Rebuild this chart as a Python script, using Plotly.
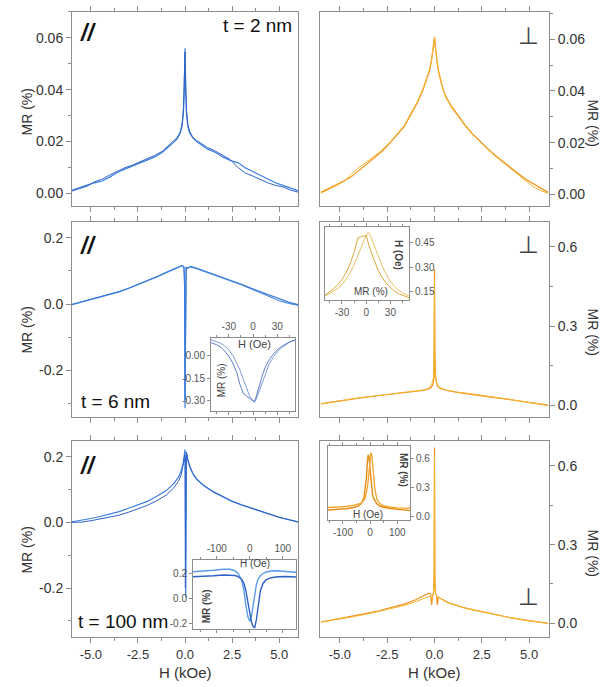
import plotly.graph_objects as go

W, H = 609, 687
FONT = "Arial, Liberation Sans, sans-serif"
BLUE = "#3a7ddc"
BLUE2 = "#2f62c8"
ORANGE = "#f0921a"
ORANGE2 = "#f5b534"

# ---------------- data ----------------
# Panel TL: parallel, t = 2 nm
H_tl = [-6.0, -5.6, -5.2, -4.8, -4.4, -4.0, -3.6, -3.2, -2.8, -2.4, -2.0, -1.6, -1.2, -0.9, -0.6, -0.4,
        -0.25, -0.15, -0.08, -0.04, 0.0, 0.04, 0.08, 0.15, 0.25, 0.4, 0.6, 0.9, 1.2, 1.6, 2.0, 2.4, 2.8,
        3.2, 3.6, 4.0, 4.4, 4.8, 5.2, 5.6, 6.0]
MR_tl_a = [0.0012, 0.0020, 0.0031, 0.0040, 0.0047, 0.0062, 0.0080, 0.0093, 0.0105, 0.0114, 0.0128, 0.0140,
           0.0158, 0.0176, 0.0196, 0.0212, 0.0232, 0.0262, 0.0315, 0.0395, 0.0560, 0.0390, 0.0305, 0.0258,
           0.0232, 0.0215, 0.0200, 0.0185, 0.0170, 0.0158, 0.0140, 0.0126, 0.0118, 0.0098, 0.0083, 0.0068,
           0.0054, 0.0040, 0.0030, 0.0020, 0.0010]
MR_tl_b = [0.0008, 0.0016, 0.0027, 0.0044, 0.0054, 0.0070, 0.0085, 0.0098, 0.0108, 0.0120, 0.0132, 0.0146,
           0.0162, 0.0181, 0.0201, 0.0216, 0.0237, 0.0270, 0.0330, 0.0420, 0.0545, 0.0410, 0.0320, 0.0265,
           0.0238, 0.0218, 0.0204, 0.0190, 0.0176, 0.0163, 0.0146, 0.0130, 0.0100, 0.0078, 0.0066, 0.0052,
           0.0040, 0.0030, 0.0024, 0.0012, 0.0004]

# Panel TR: perpendicular, t = 2 nm
H_tr = H_tl
MR_tr_a = [0.0008, 0.0022, 0.0036, 0.0052, 0.0068, 0.0092, 0.0115, 0.0140, 0.0165, 0.0195, 0.0228, 0.0262,
           0.0315, 0.0355, 0.0405, 0.0445, 0.0480, 0.0520, 0.0555, 0.0580, 0.0605, 0.0575, 0.0545, 0.0505,
           0.0465, 0.0420, 0.0378, 0.0340, 0.0310, 0.0270, 0.0235, 0.0205, 0.0178, 0.0152, 0.0128, 0.0104,
           0.0082, 0.0060, 0.0042, 0.0025, 0.0008]
MR_tr_b = [0.0004, 0.0018, 0.0033, 0.0049, 0.0078, 0.0104, 0.0125, 0.0146, 0.0170, 0.0198, 0.0232, 0.0266,
           0.0320, 0.0360, 0.0410, 0.0450, 0.0486, 0.0526, 0.0560, 0.0586, 0.0610, 0.0570, 0.0540, 0.0500,
           0.0460, 0.0416, 0.0374, 0.0336, 0.0306, 0.0266, 0.0232, 0.0202, 0.0175, 0.0148, 0.0124, 0.0100,
           0.0076, 0.0052, 0.0030, 0.0015, 0.0004]

# Panel ML: parallel, t = 6 nm
H_ml = [-6.0, -5.5, -5.0, -4.5, -4.0, -3.5, -3.0, -2.5, -2.0, -1.5, -1.0, -0.6, -0.3, -0.15, -0.06, -0.02,
        0.0, 0.02, 0.06, 0.15, 0.3, 0.6, 1.0, 1.5, 2.0, 2.5, 3.0, 3.5, 4.0, 4.5, 5.0, 5.5, 6.0]
MR_ml_a = [-0.002, 0.006, 0.013, 0.020, 0.028, 0.037, 0.047, 0.058, 0.069, 0.082, 0.095, 0.105, 0.112,
           0.116, 0.112, 0.050, -0.315, 0.060, 0.110, 0.108, 0.114, 0.109, 0.101, 0.092, 0.081, 0.070,
           0.060, 0.048, 0.037, 0.026, 0.016, 0.006, -0.002]
MR_ml_b = [-0.001, 0.007, 0.014, 0.021, 0.029, 0.038, 0.048, 0.059, 0.070, 0.083, 0.096, 0.106, 0.113,
           0.117, 0.113, 0.080, -0.290, 0.070, 0.112, 0.110, 0.112, 0.107, 0.099, 0.090, 0.079, 0.068,
           0.058, 0.046, 0.034, 0.022, 0.010, 0.002, -0.004]

# Panel MR: perpendicular, t = 6 nm
H_mr = [-6.0, -5.0, -4.0, -3.0, -2.0, -1.2, -0.6, -0.3, -0.15, -0.08, -0.04, -0.02, 0.0, 0.02, 0.04, 0.08,
        0.15, 0.3, 0.6, 1.2, 2.0, 3.0, 4.0, 5.0, 6.0]
MR_mr_a = [0.005, 0.017, 0.027, 0.036, 0.044, 0.050, 0.056, 0.062, 0.070, 0.082, 0.100, 0.160, 0.515,
           0.170, 0.105, 0.088, 0.074, 0.064, 0.057, 0.049, 0.042, 0.031, 0.021, 0.011, 0.000]
MR_mr_b = [0.006, 0.018, 0.028, 0.037, 0.045, 0.051, 0.058, 0.064, 0.080, 0.095, 0.120, 0.250, 0.480,
           0.200, 0.115, 0.092, 0.078, 0.066, 0.058, 0.050, 0.043, 0.032, 0.022, 0.012, 0.001]

# Panel BL: parallel, t = 100 nm
H_bl = [-6.0, -5.5, -5.0, -4.5, -4.0, -3.5, -3.0, -2.5, -2.0, -1.5, -1.0, -0.6, -0.35, -0.2, -0.1, -0.05,
        -0.02, 0.0, 0.02, 0.04, 0.07, 0.1, 0.15, 0.25, 0.4, 0.6, 1.0, 1.5, 2.0, 2.5, 3.0, 3.5, 4.0, 4.5,
        5.0, 5.5, 6.0]
MR_bl_a = [0.002, 0.006, 0.012, 0.018, 0.025, 0.033, 0.043, 0.054, 0.064, 0.080, 0.097, 0.118, 0.138,
           0.158, 0.180, 0.200, 0.215, 0.222, 0.180, -0.229, 0.190, 0.205, 0.190, 0.170, 0.150, 0.132,
           0.112, 0.093, 0.078, 0.064, 0.053, 0.043, 0.033, 0.024, 0.015, 0.008, 0.001]
MR_bl_b = [0.000, 0.001, 0.005, 0.010, 0.016, 0.022, 0.031, 0.041, 0.052, 0.066, 0.083, 0.105, 0.125,
           0.145, 0.170, 0.190, 0.205, 0.180, -0.200, 0.100, 0.215, 0.210, 0.192, 0.172, 0.152, 0.134,
           0.113, 0.094, 0.079, 0.065, 0.054, 0.044, 0.034, 0.025, 0.016, 0.009, 0.002]

# Panel BR: perpendicular, t = 100 nm
H_br = [-6.0, -5.0, -4.0, -3.0, -2.0, -1.5, -1.0, -0.7, -0.45, -0.3, -0.2, -0.15, -0.1, -0.05, -0.02, 0.0,
        0.02, 0.05, 0.1, 0.15, 0.2, 0.3, 0.45, 0.7, 1.0, 1.5, 2.0, 3.0, 4.0, 5.0, 6.0]
MR_br_a = [0.005, 0.018, 0.032, 0.047, 0.064, 0.075, 0.090, 0.100, 0.110, 0.115, 0.112, 0.070, 0.105,
           0.115, 0.160, 0.670, 0.150, 0.115, 0.110, 0.070, 0.100, 0.097, 0.090, 0.080, 0.072, 0.061,
           0.052, 0.036, 0.022, 0.010, 0.000]
MR_br_b = [0.004, 0.016, 0.029, 0.044, 0.060, 0.070, 0.082, 0.090, 0.097, 0.102, 0.105, 0.095, 0.108,
           0.118, 0.200, 0.640, 0.180, 0.118, 0.108, 0.095, 0.100, 0.095, 0.088, 0.079, 0.071, 0.060,
           0.051, 0.035, 0.021, 0.009, 0.000]

# Insets (H in Oe)
Hi_ml = [-52, -45, -40, -35, -30, -25, -20, -16, -12, -8, -4, 0, 2, 4, 8, 12, 16, 20, 25, 30, 35, 40, 45, 52]
MRi_ml_a = [0.105, 0.094, 0.082, 0.064, 0.038, 0.002, -0.048, -0.098, -0.158, -0.218, -0.272, -0.300,
            -0.305, -0.290, -0.232, -0.162, -0.102, -0.057, -0.012, 0.024, 0.050, 0.072, 0.088, 0.103]
MRi_ml_b = [0.086, 0.072, 0.056, 0.030, -0.004, -0.050, -0.115, -0.195, -0.252, -0.270, -0.285, -0.300,
            -0.310, -0.272, -0.194, -0.124, -0.068, -0.028, 0.008, 0.038, 0.060, 0.078, 0.090, 0.104]

Hi_mr = [-51, -45, -40, -35, -30, -25, -20, -15, -10, -6, -3, 0, 3, 6, 10, 15, 20, 25, 30, 35, 40, 45, 53]
MRi_mr_a = [0.125, 0.140, 0.155, 0.172, 0.195, 0.225, 0.265, 0.315, 0.375, 0.425, 0.460, 0.495, 0.512,
            0.482, 0.430, 0.365, 0.305, 0.255, 0.215, 0.185, 0.160, 0.145, 0.125]
MRi_mr_b = [0.130, 0.150, 0.170, 0.195, 0.225, 0.265, 0.320, 0.390, 0.480, 0.486, 0.490, 0.492, 0.440,
            0.395, 0.340, 0.280, 0.235, 0.200, 0.175, 0.155, 0.140, 0.130, 0.115]

Hi_bl = [-172, -140, -110, -80, -60, -45, -35, -25, -18, -12, -6, 0, 5, 10, 15, 20, 25, 32, 40, 50, 65, 85, 110, 140]
MRi_bl_a = [0.212, 0.216, 0.224, 0.232, 0.232, 0.220, 0.196, 0.146, 0.066, -0.056, -0.148, -0.185,
            -0.150, -0.062, 0.038, 0.108, 0.150, 0.180, 0.198, 0.210, 0.218, 0.220, 0.214, 0.208]
MRi_bl_b = [0.172, 0.174, 0.180, 0.186, 0.186, 0.182, 0.172, 0.152, 0.122, 0.062, -0.028, -0.118,
            -0.190, -0.230, -0.236, -0.172, -0.062, 0.058, 0.118, 0.148, 0.164, 0.172, 0.174, 0.170]

Hi_br = [-155, -120, -90, -60, -45, -35, -28, -22, -17, -13, -10, -7, -4, 0, 3, 6, 9, 13, 18, 25, 35, 50, 70, 100, 147]
MRi_br_a = [0.072, 0.078, 0.085, 0.098, 0.112, 0.130, 0.160, 0.210, 0.300, 0.420, 0.560, 0.640, 0.610,
            0.480, 0.360, 0.280, 0.230, 0.190, 0.160, 0.135, 0.115, 0.100, 0.090, 0.080, 0.065]
MRi_br_b = [0.098, 0.102, 0.108, 0.120, 0.130, 0.140, 0.155, 0.175, 0.205, 0.250, 0.300, 0.370, 0.470,
            0.600, 0.660, 0.640, 0.560, 0.420, 0.280, 0.180, 0.140, 0.115, 0.102, 0.094, 0.090]

# tick labels
x_ticks = [-5, -2.5, 0, 2.5, 5]
x_ticktext = ["-5.0", "-2.5", "0.0", "2.5", "5.0"]
y_small_ticks = [0, 0.02, 0.04, 0.06]
y_small_text = ["0.00", "0.02", "0.04", "0.06"]
y_par_ticks = [-0.2, 0, 0.2]
y_par_text = ["-0.2", "0.0", "0.2"]
y_perp_ticks = [0, 0.3, 0.6]
y_perp_text = ["0.0", "0.3", "0.6"]
ins_ml_x = [-30, 0, 30]
ins_ml_y = [-0.30, -0.15, 0.0]
ins_ml_ytext = ["-0.30", "-0.15", "0.00"]
ins_mr_y = [0.15, 0.30, 0.45]
ins_mr_ytext = ["0.15", "0.30", "0.45"]
ins_b_x = [-100, 0, 100]
ins_b_xtext = ["-100", "0", "100"]
ins_bl_y = [-0.2, 0.0, 0.2]
ins_bl_ytext = ["-0.2", "0.0", "0.2"]
ins_br_y = [0.0, 0.3, 0.6]
ins_br_ytext = ["0.0", "0.3", "0.6"]

# ---------------- figure ----------------
def px(x):
    return x / W

def py(y):
    return 1 - y / H

fig = go.Figure()

def add(H_, M, idx, color, width=1.2):
    s = "" if idx == 1 else str(idx)
    fig.add_trace(go.Scatter(x=H_, y=M, mode="lines", line=dict(color=color, width=width),
                             xaxis="x" + s, yaxis="y" + s, showlegend=False, hoverinfo="skip"))

add(H_tl, MR_tl_a, 1, BLUE); add(H_tl, MR_tl_b, 1, BLUE2, 1.0)
add(H_tr, MR_tr_a, 2, ORANGE); add(H_tr, MR_tr_b, 2, ORANGE2, 1.0)
add(H_ml, MR_ml_a, 3, BLUE); add(H_ml, MR_ml_b, 3, BLUE, 1.0)
add(H_mr, MR_mr_a, 4, ORANGE); add(H_mr, MR_mr_b, 4, ORANGE2, 1.0)
add(H_bl, MR_bl_a, 5, BLUE); add(H_bl, MR_bl_b, 5, BLUE2, 1.0)
add(H_br, MR_br_a, 6, ORANGE); add(H_br, MR_br_b, 6, ORANGE2, 1.0)
add(Hi_ml, MRi_ml_a, 7, "#7f9ad8", 1.0); add(Hi_ml, MRi_ml_b, 7, "#5f7fcc", 1.0)
add(Hi_mr, MRi_mr_a, 8, "#e6c060", 1.0); add(Hi_mr, MRi_mr_b, 8, "#d9a83a", 1.0)
add(Hi_bl, MRi_bl_a, 9, "#5a9ae8", 1.4); add(Hi_bl, MRi_bl_b, 9, "#2e62c6", 1.4)
add(Hi_br, MRi_br_a, 10, "#e88a12", 1.4); add(Hi_br, MRi_br_b, 10, "#f2a636", 1.4)

FR = "#8c8c8c"
TICKF = dict(family=FONT, size=13, color="#333333")

def xax(dom, rng, labels, **kw):
    d = dict(domain=dom, range=rng, showline=True, linecolor=FR, linewidth=1, mirror="allticks",
             ticks="outside", ticklen=5, tickcolor=FR, tickmode="array", tickvals=x_ticks,
             ticktext=x_ticktext, showticklabels=labels, tickfont=TICKF, showgrid=False,
             zeroline=False, minor=dict(ticks="outside", ticklen=3, dtick=1.25, tick0=0, tickcolor=FR))
    d.update(kw)
    return d

def yax(dom, rng, vals, text, minor, side, **kw):
    d = dict(domain=dom, range=rng, showline=True, linecolor=FR, linewidth=1, mirror=True,
             ticks="outside", ticklen=5, tickcolor=FR, tickmode="array", tickvals=vals, ticktext=text,
             tickfont=dict(family=FONT, size=14, color="#333333"), showgrid=False, zeroline=False,
             side=side, minor=dict(ticks="outside", ticklen=3, dtick=minor, tick0=0, tickcolor=FR))
    d.update(kw)
    return d

XL = [px(72), px(298)]
XR = [px(320), px(549)]
YT = [py(207), py(12)]
YM = [py(419), py(223)]
YB = [py(640), py(443)]

layout = dict(
    width=W, height=H, margin=dict(l=0, r=0, t=0, b=0), plot_bgcolor="white", paper_bgcolor="white",
    font=dict(family=FONT),
    xaxis=xax(XL, [-6.0, 6.0], False, anchor="y"),
    yaxis=yax(YT, [-0.005, 0.070], y_small_ticks, y_small_text, 0.01, "left", anchor="x"),
    xaxis2=xax(XR, [-6.05, 6.05], False, anchor="y2"),
    yaxis2=yax(YT, [-0.0045, 0.0705], y_small_ticks, y_small_text, 0.01, "right", anchor="x2"),
    xaxis3=xax(XL, [-6.0, 6.0], False, anchor="y3"),
    yaxis3=yax(YM, [-0.342, 0.248], y_par_ticks, y_par_text, 0.1, "left", anchor="x3"),
    xaxis4=xax(XR, [-6.05, 6.05], False, anchor="y4"),
    yaxis4=yax(YM, [-0.045, 0.694], y_perp_ticks, y_perp_text, 0.15, "right", anchor="x4"),
    xaxis5=xax(XL, [-6.0, 6.0], True, anchor="y5"),
    yaxis5=yax(YB, [-0.35, 0.248], y_par_ticks, y_par_text, 0.1, "left", anchor="x5"),
    xaxis6=xax(XR, [-6.05, 6.05], True, anchor="y6"),
    yaxis6=yax(YB, [-0.053, 0.695], y_perp_ticks, y_perp_text, 0.15, "right", anchor="x6"),
)

INS_F = dict(family=FONT, size=10, color="#555555")

def ins_x(dom, rng, vals, text, side, anchor, minor):
    return dict(domain=dom, range=rng, showline=True, linecolor=FR, linewidth=1, mirror="allticks",
                ticks="outside", ticklen=3, tickcolor=FR, tickmode="array", tickvals=vals, ticktext=text,
                tickfont=INS_F, side=side, anchor=anchor, showgrid=False, zeroline=False,
                minor=dict(ticks="outside", ticklen=2, dtick=minor, tick0=0, tickcolor=FR))

def ins_y(dom, rng, vals, text, side, anchor):
    return dict(domain=dom, range=rng, showline=True, linecolor=FR, linewidth=1, mirror=True,
                ticks="outside", ticklen=3, tickcolor=FR, tickmode="array", tickvals=vals, ticktext=text,
                tickfont=INS_F, side=side, anchor=anchor, showgrid=False, zeroline=False)

layout["xaxis7"] = ins_x([px(211), px(295)], [-52, 52], ins_ml_x, [str(v) for v in ins_ml_x], "top", "y7", 15)
layout["yaxis7"] = ins_y([py(413), py(339)], [-0.37, 0.12], ins_ml_y, ins_ml_ytext, "left", "x7")
layout["xaxis8"] = ins_x([px(325), px(409)], [-51, 53], ins_ml_x, [str(v) for v in ins_ml_x], "bottom", "y8", 15)
layout["yaxis8"] = ins_y([py(301), py(228)], [0.103, 0.544], ins_mr_y, ins_mr_ytext, "right", "x8")
layout["xaxis9"] = ins_x([px(193), px(296)], [-172, 140], ins_b_x, ins_b_xtext, "top", "y9", 50)
layout["yaxis9"] = ins_y([py(632), py(562)], [-0.25, 0.31], ins_bl_y, ins_bl_ytext, "left", "x9")
layout["xaxis10"] = ins_x([px(328), px(410)], [-155, 147], ins_b_x, ins_b_xtext, "bottom", "y10", 50)
layout["yaxis10"] = ins_y([py(522), py(448)], [-0.028, 0.728], ins_br_y, ins_br_ytext, "right", "x10")

fig.update_layout(**layout)

def ann(text, x, y, size, angle=0, color="#222222", **kw):
    fig.add_annotation(text=text, x=px(x), y=py(y), xref="paper", yref="paper", showarrow=False,
                       textangle=angle, font=dict(family=FONT, size=size, color=color),
                       xanchor="center", yanchor="middle", **kw)

# panel labels
for yy in (33, 247, 468):
    ann("<b><i>//</i></b>", 88, yy, 23, color="#111111")
ann("t = 2 nm", 257, 26, 19, color="#111111")
ann("t = 6 nm", 115, 403, 19, color="#111111")
ann("t = 100 nm", 123, 624, 19, color="#111111")
for yy in (36, 246, 599):
    ann("⊥", 528, yy, 24, color="#444444")

# axis titles
for yy in (113, 332, 553):
    ann("MR (%)", 27, yy, 14, angle=-90, color="#333333")
for yy in (123, 333, 555):
    ann("MR (%)", 593, yy, 14, angle=90, color="#333333")
ann("H (kOe)", 185, 675, 15, color="#333333")
ann("H (kOe)", 434, 675, 15, color="#333333")

# inset titles
ann("H (Oe)", 254, 346, 11, color="#444444")
ann("MR (%)", 221, 382, 10, angle=-90, color="#444444")
ann("MR (%)", 371, 293, 10, color="#444444")
ann("<b>H (Oe)</b>", 398, 256, 10, angle=90, color="#444444")
ann("H (Oe)", 255, 566, 10, color="#444444")
ann("<b>MR (%)</b>", 206, 609, 10, angle=-90, color="#444444")
ann("<b>MR (%)</b>", 403, 472, 10, angle=90, color="#444444")
ann("H (Oe)", 368, 517, 10, color="#444444")

fig.write_html("out.html", config={"displayModeBar": False},
               post_script="document.body.style.margin='0';document.body.style.overflow='hidden';")
